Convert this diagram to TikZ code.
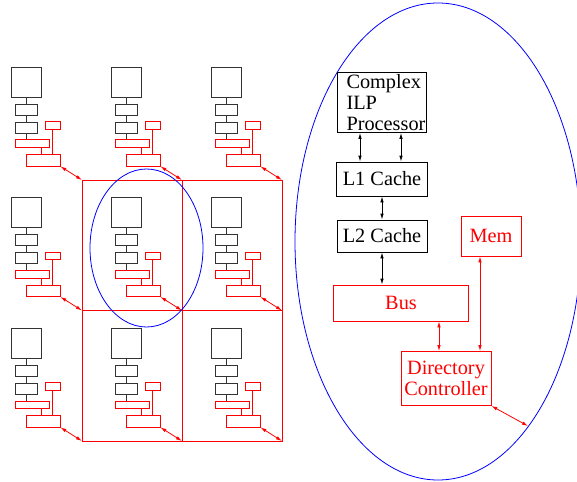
\documentclass[tikz,border=0pt]{standalone}
\usepackage{fontspec}
\setmainfont{Liberation Serif}
\newfontfamily\figfont{Liberation Serif}
\usetikzlibrary{arrows.meta, positioning}

\begin{document}
\begin{tikzpicture}[x=1pt, y=-1pt, >={Latex[length=6pt,width=3.5pt]},
    box/.style={draw, line width=0.8pt, inner sep=0pt},
    redbox/.style={box, draw=red, text=red},
    tilebox/.style={draw=black!80, line width=0.9pt, inner sep=0pt},
    redtile/.style={draw=red, line width=0.9pt, inner sep=0pt},
    wire/.style={line width=0.9pt, black!80},
    redwire/.style={line width=0.8pt, red},
    font=\figfont\fontsize{20.3}{21}\selectfont]
    \useasboundingbox (0,0) rectangle (577,481);

    % interconnect grid
    \foreach \cx in {0,1,2}
      \foreach \ry in {0,1,2}
        \coordinate (g\cx\ry) at (82+100*\cx, 180+130.5*\ry);
    \draw[redwire] (g00) rectangle (g22) (g10) -- (g12) (g01) -- (g21);

    % nine small nodes
    \foreach \cx in {0,1,2}
      \foreach \ry in {0,1,2} {
        \begin{scope}[shift={(100*\cx,130.5*\ry)}]
          \node[tilebox, minimum width=30pt, minimum height=30pt] (p\cx\ry) at (26,82) {};
          \node[tilebox, minimum width=22pt, minimum height=11pt] (a\cx\ry) at (26,109.5) {};
          \node[tilebox, minimum width=22pt, minimum height=11pt] (b\cx\ry) at (26,127.7) {};
          \node[redtile, minimum width=15pt, minimum height=7.6pt] (m\cx\ry) at (52.5,125.5) {};
          \node[redtile, minimum width=34pt, minimum height=7.7pt] (s\cx\ry) at (32,143.8) {};
          \node[redtile, minimum width=34pt, minimum height=11.3pt] (d\cx\ry) at (43,160.3) {};
        \end{scope}
        \draw[wire] (p\cx\ry) -- (a\cx\ry) (a\cx\ry) -- (b\cx\ry)
                    (b\cx\ry.south) -- (b\cx\ry.south |- s\cx\ry.north);
        \draw[redwire] ([xshift=9pt]s\cx\ry.south) -- ([xshift=9pt]s\cx\ry.south |- d\cx\ry.north)
                       (m\cx\ry.south) -- (m\cx\ry.south |- d\cx\ry.north);
        \path[<->, redwire] (d\cx\ry.south east) edge (g\cx\ry);
      }

    \draw[blue, line width=0.8pt] (146.5,248) ellipse [x radius=56.5, y radius=79];

    % one node in detail
    \draw[blue, line width=0.8pt] (438,241.5) ellipse [x radius=143, y radius=238.5];

    \node[box, text width=71pt, inner xsep=9pt, minimum height=60pt, align=left] (cpu) at (382,102.5) {Complex\\ILP\\Processor};
    \node[box, minimum width=91pt, minimum height=34pt] (l1) at (382,179) {L1 Cache};
    \node[box, minimum width=90pt, minimum height=32pt] (l2) at (382,236) {L2 Cache};
    \node[redbox, minimum width=135pt, minimum height=36pt] (bus) at (401,303) {Bus};
    \node[redbox, minimum width=60pt, minimum height=40pt] (mem) at (491,236) {Mem};
    \node[redbox, minimum width=90pt, minimum height=54pt, align=center] (dir) at (446,378.5) {Directory\\Controller};
    \coordinate (net) at (528,426);

    \path[<->, line width=0.8pt]
        ([xshift=-22pt]cpu.south) edge ([xshift=-22pt]cpu.south |- l1.north)
        ([xshift=19pt]cpu.south)  edge ([xshift=19pt]cpu.south |- l1.north)
        (l1) edge (l2)
        (l2.south) edge (l2.south |- bus.north);
    \path[<->, redwire]
        ([xshift=38pt]bus.south)  edge ([xshift=38pt]bus.south |- dir.north)
        ([xshift=-11pt]mem.south) edge ([xshift=-11pt]mem.south |- dir.north)
        (dir.south east) edge (net);
\end{tikzpicture}
\end{document}
